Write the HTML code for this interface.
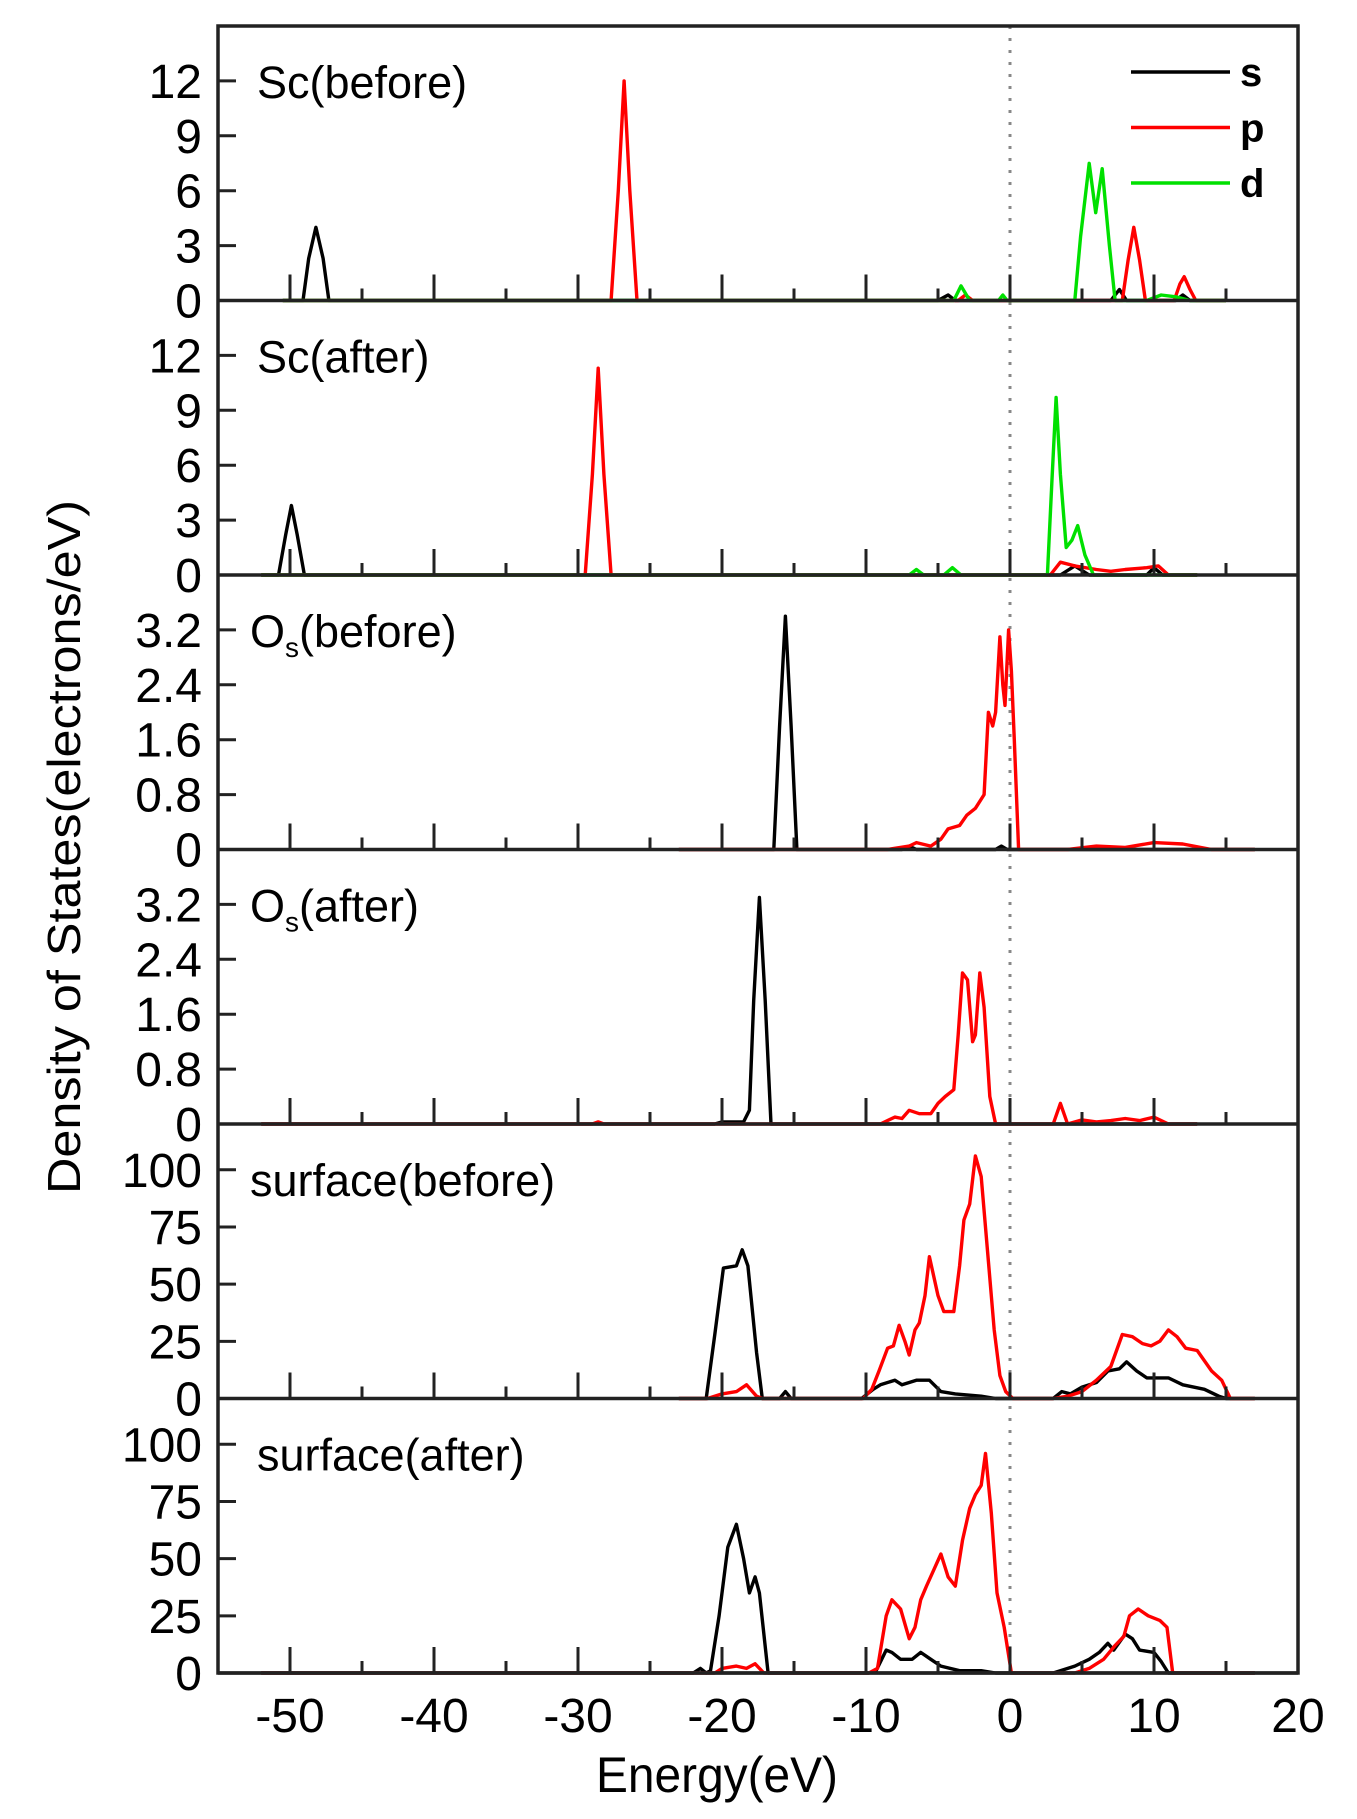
<!DOCTYPE html>
<html><head><meta charset="utf-8"><style>
html,body{margin:0;padding:0;background:#fff;}
svg{display:block;font-family:"Liberation Sans",sans-serif;}
</style></head><body>
<svg id="chart" width="1357" height="1819" viewBox="0 0 1357 1819" xmlns="http://www.w3.org/2000/svg"></svg>
<script>
// ---- data (energy eV, DOS) ----
const xTicks = [-50,-40,-30,-20,-10,0,10,20];
const xMinor = [-55,-45,-35,-25,-15,-5,5,15];
const panelLabels = ["Sc(before)","Sc(after)","O_s(before)","O_s(after)","surface(before)","surface(after)"];
const yMaxes = [15,15,4,4,120,120];
const yTicksSc = [0,3,6,9,12];
const yTicksO = [0,0.8,1.6,2.4,3.2];
const yTicksSurf = [0,25,50,75,100];
const legendLabels = ["s","p","d"];

const scBeforeS = [[-50.5,0],[-49.1,0],[-48.7,2.3],[-48.2,4],[-47.7,2.3],[-47.3,0],[-5,0],[-4.3,0.3],[-3.8,0],[7,0],[7.6,0.6],[8.1,0],[11.5,0],[12,0.3],[12.5,0],[15,0]];
const scBeforeP = [[-50.5,0],[-27.7,0],[-27.2,6],[-26.8,12],[-26.4,6],[-25.9,0],[-3.6,0],[-3.1,0.3],[-2.6,0],[7.8,0],[8.2,2.2],[8.6,4],[9.0,2.2],[9.4,0],[11.4,0],[11.8,0.9],[12.1,1.3],[12.5,0.6],[12.9,0],[15,0]];
const scBeforeD = [[-50.5,0],[-3.9,0],[-3.4,0.8],[-2.8,0],[-0.8,0],[-0.5,0.3],[-0.2,0],[4.5,0],[4.9,3.5],[5.5,7.5],[5.95,4.8],[6.4,7.2],[6.9,3],[7.3,0],[9.5,0],[10.5,0.3],[11.5,0.2],[12.5,0],[15,0]];
const scAfterS = [[-52,0],[-50.8,0],[-50.3,2.2],[-49.9,3.8],[-49.5,2.2],[-49.0,0],[3.5,0],[4.5,0.5],[5.5,0],[9.5,0],[10,0.4],[10.6,0],[13,0]];
const scAfterP = [[-52,0],[-29.5,0],[-29.0,5.5],[-28.6,11.3],[-28.2,5.5],[-27.7,0],[2.8,0],[3.5,0.7],[4.5,0.5],[6,0.3],[7,0.2],[8,0.3],[9.5,0.4],[10.3,0.5],[11,0],[13,0]];
const scAfterD = [[-52,0],[-7,0],[-6.5,0.3],[-6,0],[-4.6,0],[-4,0.4],[-3.4,0],[2.6,0],[2.9,5],[3.2,9.7],[3.5,5.5],[3.9,1.5],[4.3,1.9],[4.7,2.7],[5.2,1.1],[5.8,0],[13,0]];
const oBeforeS = [[-23,0],[-16.4,0],[-16.0,1.8],[-15.6,3.4],[-15.2,1.8],[-14.8,0],[-7.5,0],[-7,0.05],[-6.5,0],[-1,0],[-0.6,0.05],[-0.2,0],[17,0]];
const oBeforeP = [[-23,0],[-8.5,0],[-7,0.05],[-6.5,0.1],[-5.5,0.05],[-4.8,0.15],[-4.3,0.3],[-3.5,0.35],[-3,0.5],[-2.4,0.6],[-1.8,0.8],[-1.5,2.0],[-1.2,1.8],[-1.0,2.0],[-0.7,3.1],[-0.5,2.4],[-0.35,2.1],[-0.1,3.2],[0.1,2.6],[0.3,1.6],[0.6,0],[4,0],[6,0.05],[8,0.03],[10,0.1],[12,0.08],[14,0],[17,0]];
const oAfterS = [[-52,0],[-20.5,0],[-20,0.03],[-18.5,0.03],[-18.1,0.2],[-17.8,1.8],[-17.4,3.3],[-17.0,1.8],[-16.6,0],[13,0]];
const oAfterP = [[-52,0],[-29,0],[-28.6,0.03],[-28.2,0],[-9,0],[-8,0.1],[-7.5,0.08],[-7,0.2],[-6.3,0.15],[-5.5,0.15],[-5,0.3],[-4.5,0.4],[-3.9,0.5],[-3.6,1.3],[-3.3,2.2],[-2.95,2.1],[-2.6,1.2],[-2.4,1.3],[-2.1,2.2],[-1.8,1.7],[-1.4,0.4],[-1.0,0],[3,0],[3.5,0.3],[4,0],[5,0.06],[6,0.03],[7,0.05],[8,0.08],[9,0.05],[10,0.1],[11,0],[13,0]];
const surfBeforeS = [[-23,0],[-21.1,0],[-20.5,28],[-19.9,57],[-19.0,58],[-18.6,65],[-18.2,58],[-17.6,20],[-17.2,0],[-16,0],[-15.6,3],[-15.2,0],[-10.3,0],[-9.5,4],[-9,6],[-8,8],[-7.5,6],[-6.5,8],[-5.6,8],[-4.8,3],[-3.8,2],[-2,1],[-1,0],[3,0],[3.6,3],[4.2,2],[5,5],[6,7],[6.8,12],[7.6,13],[8.1,16],[8.8,12],[9.5,9],[11,9],[12,6],[13.5,4],[14.5,1],[15,0],[17,0]];
const surfBeforeP = [[-23,0],[-21,0],[-20,2],[-19,3],[-18.3,6],[-17.6,1],[-17.2,0],[-10.2,0],[-9.6,4],[-9.1,12],[-8.5,22],[-8.1,23],[-7.7,32],[-7.3,25],[-7.0,19],[-6.6,30],[-6.3,33],[-5.9,45],[-5.6,62],[-5.0,45],[-4.6,38],[-3.9,38],[-3.5,58],[-3.2,78],[-2.8,85],[-2.4,106],[-2.0,97],[-1.5,60],[-1.1,30],[-0.7,10],[-0.3,3],[0.2,0],[3,0],[4,1],[5,3],[6,8],[7,14],[7.8,28],[8.5,27],[9.2,24],[9.8,23],[10.4,25],[11,30],[11.6,27],[12.2,22],[13,21],[14,12],[14.7,8],[15.3,0],[17,0]];
const surfAfterS = [[-52,0],[-22,0],[-21.5,2],[-21.1,0],[-20.8,1],[-20.2,25],[-19.6,55],[-19.0,65],[-18.5,50],[-18.1,35],[-17.7,42],[-17.4,35],[-16.8,0],[-9.8,0],[-9.3,1],[-8.6,10],[-8.2,9],[-7.6,6],[-6.8,6],[-6.2,9],[-5.5,6],[-4.8,3],[-3.5,1],[-2,1],[-1,0],[3,0],[4.5,3],[5.5,6],[6.2,9],[6.8,13],[7.2,10],[8,17],[8.5,15],[9,10],[10,9],[10.5,5],[11,0],[17,0]];
const surfAfterP = [[-52,0],[-20.5,0],[-20,2],[-19,3],[-18.3,2],[-17.7,4],[-17.1,0],[-9.8,0],[-9.2,2],[-8.6,25],[-8.2,32],[-7.6,28],[-7.0,15],[-6.6,20],[-6.2,32],[-5.8,38],[-5.3,45],[-4.8,52],[-4.3,42],[-3.8,38],[-3.3,58],[-2.8,72],[-2.4,78],[-2.0,82],[-1.7,96],[-1.3,70],[-0.9,35],[-0.4,20],[0.1,0],[4.5,0],[5.5,2],[6.5,6],[7.3,12],[7.9,16],[8.3,25],[8.9,28],[9.6,25],[10.4,23],[10.9,20],[11.3,0],[17,0]];

const panelSeries = [
  [["s",scBeforeS],["p",scBeforeP],["d",scBeforeD]],
  [["s",scAfterS],["p",scAfterP],["d",scAfterD]],
  [["s",oBeforeS],["p",oBeforeP]],
  [["s",oAfterS],["p",oAfterP]],
  [["s",surfBeforeS],["p",surfBeforeP]],
  [["s",surfAfterS],["p",surfAfterP]]
];
const panelYTicks = [yTicksSc,yTicksSc,yTicksO,yTicksO,yTicksSurf,yTicksSurf];

// ---- layout ----
const L=218,R=1298,T=26,B=1673,PH=(B-T)/6,XMIN=-55,XMAX=20;
const colors={s:"#000",p:"#ff0000",d:"#00e000"};
const NS="http://www.w3.org/2000/svg";
const svg=document.getElementById('chart');
function xs(e){return L+(e-XMIN)/(XMAX-XMIN)*(R-L);}
function ys(i,v){const bot=T+(i+1)*PH;return bot-v/yMaxes[i]*PH;}
function mk(tag,attrs,parent){const el=document.createElementNS(NS,tag);for(const k in attrs)el.setAttribute(k,attrs[k]);(parent||svg).appendChild(el);return el;}

const zl=mk('line',{x1:xs(0),x2:xs(0),y1:T,y2:B,stroke:'#888','stroke-width':3,'stroke-dasharray':'3 9'});



for(let i=0;i<6;i++){
  const g=mk('g',{});
  
  
  const bot=T+(i+1)*PH;
  panelSeries[i].forEach(([k,arr])=>{
    const pts=arr.map(p=>xs(p[0]).toFixed(1)+','+ys(i,p[1]).toFixed(1)).join(' ');
    const pl=mk('polyline',{points:pts,fill:'none',stroke:colors[k],'stroke-width':3.4,'stroke-linejoin':'round'},g);
    
    
  });
  xTicks.forEach(t=>{if(t>XMIN&&t<XMAX)mk('line',{x1:xs(t),x2:xs(t),y1:bot,y2:bot-26,stroke:'#222','stroke-width':3},g);});
  xMinor.forEach(t=>{if(t>XMIN&&t<XMAX)mk('line',{x1:xs(t),x2:xs(t),y1:bot,y2:bot-12,stroke:'#222','stroke-width':3},g);});
  panelYTicks[i].forEach(v=>{
    const y=ys(i,v);
    mk('line',{x1:L,x2:L+18,y1:y,y2:y,stroke:'#222','stroke-width':3},g);
    const tx=mk('text',{x:202,y:y+17,'font-size':48,'text-anchor':'end',fill:'#000'},g);
    tx.textContent=String(v);
    
    
  });
  mk('line',{x1:L,x2:R,y1:bot,y2:bot,stroke:'#222','stroke-width':3.5},g);
  const lab=panelLabels[i];
  const lt=mk('text',{x:i>=2&&i<=4?250:257,y:T+i*PH+72,'font-size':45,fill:'#000'},g);
  
  
  if(lab.startsWith('O_s')){
    lt.textContent='O';
    const sub=mk('tspan',{'font-size':28,dy:10},lt);sub.textContent='s';
    const rest=mk('tspan',{dy:-10},lt);rest.textContent=lab.slice(3);
  } else lt.textContent=lab;
}
const fr=mk('rect',{x:L,y:T,width:R-L,height:B-T,fill:'none',stroke:'#222','stroke-width':3.5});



xTicks.forEach(t=>{
  const tx=mk('text',{x:xs(t),y:1732,'font-size':48,'text-anchor':'middle',fill:'#000'});
  tx.textContent=String(t);
  
  
});

legendLabels.forEach((k,j)=>{
  const y=72+j*55.5;
  const ln=mk('line',{x1:1131,x2:1230,y1:y,y2:y,stroke:colors[k],'stroke-width':3.5});
  
  
  const tx=mk('text',{x:1240,y:y+14,'font-size':40,'font-weight':'bold',fill:'#000'});
  tx.textContent=k;
  
  
});

const yt=mk('text',{transform:'translate(80,847) rotate(-90)','text-anchor':'middle','font-size':46,textLength:694,lengthAdjust:'spacingAndGlyphs'});
yt.textContent='Density of States(electrons/eV)';


const xt=mk('text',{x:717,y:1792,'text-anchor':'middle','font-size':50,textLength:242,lengthAdjust:'spacingAndGlyphs'});
xt.textContent='Energy(eV)';


</script>
</body></html>
